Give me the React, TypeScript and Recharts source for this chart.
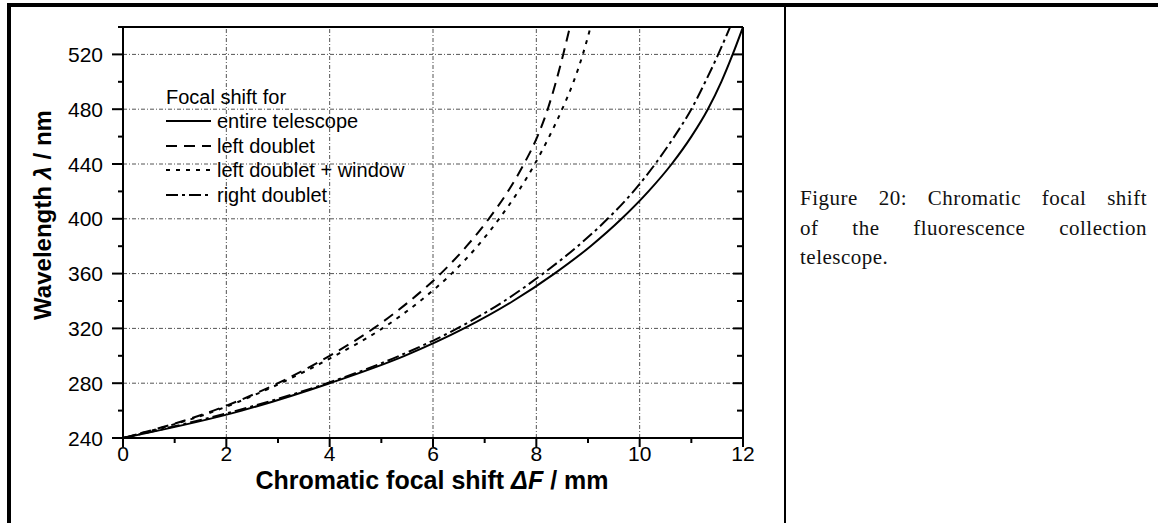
import React from "react";
import { LineChart, Line, XAxis, YAxis, ReferenceLine } from "recharts";

// wavelength rows (nm) and focal shift per configuration (mm)
const wavelengths = [240, 260, 280, 300, 320, 340, 360, 380, 400, 420, 440, 460, 480, 500, 520, 540];
const entireTelescope = [0, 2.3, 4.0, 5.45, 6.6, 7.55, 8.35, 9.05, 9.65, 10.17, 10.62, 11.0, 11.32, 11.58, 11.8, 12.0];
const leftDoublet = [0, 1.75, 3.0, 4.0, 4.85, 5.55, 6.15, 6.65, 7.08, 7.45, 7.76, 8.02, 8.22, 8.38, 8.52, 8.65];
const leftDoubletWindow = [0, 1.8, 3.05, 4.1, 5.02, 5.75, 6.36, 6.86, 7.28, 7.65, 7.97, 8.25, 8.5, 8.72, 8.9, 9.05];
const rightDoublet = [0, 2.2, 3.95, 5.35, 6.47, 7.38, 8.13, 8.8, 9.38, 9.88, 10.3, 10.67, 11.0, 11.27, 11.52, 11.75];

const xTicks = [0, 1, 2, 3, 4, 5, 6, 7, 8, 9, 10, 11, 12];
const xMajor = [0, 2, 4, 6, 8, 10, 12];
const xGrid = [2, 4, 6, 8, 10];
const yTicks = [240, 260, 280, 300, 320, 340, 360, 380, 400, 420, 440, 460, 480, 500, 520, 540];
const yMajor = [240, 280, 320, 360, 400, 440, 480, 520];
const yGrid = [280, 320, 360, 400, 440, 480, 520];

const series = [
  { name: "entire telescope", values: entireTelescope, dash: undefined },
  { name: "left doublet", values: leftDoublet, dash: "11 7" },
  { name: "left doublet + window", values: leftDoubletWindow, dash: "4 6" },
  { name: "right doublet", values: rightDoublet, dash: "12 4 3 4" },
];

const toRows = (vals: number[]) => wavelengths.map((wl, i) => ({ f: vals[i], wl }));

const FONT = "'Liberation Sans', Arial, sans-serif";

const BottomTick = (props: any) => {
  const { x, y, payload } = props;
  const major = xMajor.includes(payload.value);
  return (
    <g>
      <line x1={x} y1={y} x2={x} y2={y + (major ? 9 : 5)} stroke="#000" strokeWidth={2} />
      {major && (
        <text x={x} y={y + 23} textAnchor="middle" fontSize={21} fontFamily={FONT} fill="#000">
          {payload.value}
        </text>
      )}
    </g>
  );
};

const TopTick = (props: any) => {
  const { x, y, payload } = props;
  const major = xMajor.includes(payload.value);
  return <line x1={x} y1={y} x2={x} y2={y + (major ? 9 : 6)} stroke="#000" strokeWidth={2} />;
};

const LeftTick = (props: any) => {
  const { x, y, payload } = props;
  const major = yMajor.includes(payload.value);
  return (
    <g>
      <line x1={x} y1={y} x2={x - (major ? 11 : 5)} y2={y} stroke="#000" strokeWidth={2} />
      {major && (
        <text x={x - 20} y={y + 7.5} textAnchor="end" fontSize={21} fontFamily={FONT} fill="#000">
          {payload.value}
        </text>
      )}
    </g>
  );
};

const RightTick = (props: any) => {
  const { x, y, payload } = props;
  const major = yMajor.includes(payload.value);
  return <line x1={x} y1={y} x2={x - (major ? 10 : 6)} y2={y} stroke="#000" strokeWidth={2} />;
};

const LegendSample = ({ dash }: { dash?: string }) => (
  <svg width={45} height={8} style={{ display: "block" }}>
    <line x1={0} y1={4} x2={45} y2={4} stroke="#000" strokeWidth={2} strokeDasharray={dash} />
  </svg>
);

export default function App() {
  return (
    <div
      style={{
        position: "absolute",
        left: 0,
        top: 0,
        width: 1158,
        height: 523,
        background: "#fff",
        overflow: "hidden",
        fontFamily: FONT,
      }}
    >
      {/* page frame */}
      <div style={{ position: "absolute", left: 7, top: 3, width: 1151, height: 4, background: "#000" }} />
      <div style={{ position: "absolute", left: 7, top: 3, width: 4, height: 520, background: "#000" }} />
      <div style={{ position: "absolute", left: 784, top: 3, width: 2, height: 520, background: "#000" }} />

      <div style={{ position: "absolute", left: 0, top: 0 }}>
        <LineChart width={1158} height={523} margin={{ top: 27, right: 415, bottom: 84, left: 122 }}>
          <XAxis
            xAxisId={0}
            type="number"
            dataKey="f"
            domain={[0, 12]}
            ticks={xTicks}
            interval={0}
            height={1}
            tickSize={0}
            tickMargin={0}
            tickLine={false}
            tick={BottomTick}
            axisLine={{ stroke: "#000", strokeWidth: 2 }}
            allowDataOverflow
          />
          <XAxis
            xAxisId="top"
            orientation="top"
            mirror
            type="number"
            domain={[0, 12]}
            ticks={xTicks}
            interval={0}
            height={1}
            tickSize={0}
            tickMargin={0}
            tickLine={false}
            tick={TopTick}
            axisLine={{ stroke: "#000", strokeWidth: 2 }}
            allowDataOverflow
          />
          <YAxis
            yAxisId={0}
            type="number"
            dataKey="wl"
            domain={[240, 540]}
            ticks={yTicks}
            interval={0}
            width={1}
            tickSize={0}
            tickMargin={0}
            tickLine={false}
            tick={LeftTick}
            axisLine={{ stroke: "#000", strokeWidth: 2 }}
            allowDataOverflow
          />
          <YAxis
            yAxisId="right"
            orientation="right"
            mirror
            type="number"
            domain={[240, 540]}
            ticks={yTicks}
            interval={0}
            width={1}
            tickSize={0}
            tickMargin={0}
            tickLine={false}
            tick={RightTick}
            axisLine={{ stroke: "#000", strokeWidth: 2 }}
            allowDataOverflow
          />
          {xGrid.map((v) => (
            <ReferenceLine key={"gx" + v} x={v} stroke="#555" strokeWidth={1} strokeDasharray="4 2 1 2" />
          ))}
          {yGrid.map((v) => (
            <ReferenceLine key={"gy" + v} y={v} stroke="#555" strokeWidth={1} strokeDasharray="4 2 1 2" />
          ))}
          {series.map((s) => (
            <Line
              key={s.name}
              data={toRows(s.values)}
              dataKey="wl"
              type="monotone"
              stroke="#000"
              strokeWidth={2}
              strokeDasharray={s.dash}
              dot={false}
              activeDot={false}
              isAnimationActive={false}
            />
          ))}
        </LineChart>
      </div>

      {/* legend */}
      <div style={{ position: "absolute", left: 166, top: 85, fontSize: 20, lineHeight: "24px", color: "#000" }}>
        <div style={{ height: 24 }}>Focal shift for</div>
        {series.map((s) => (
          <div key={s.name} style={{ display: "flex", alignItems: "center", height: 24.5 }}>
            <LegendSample dash={s.dash} />
            <span style={{ marginLeft: 6, lineHeight: "24px" }}>{s.name}</span>
          </div>
        ))}
      </div>

      {/* axis titles */}
      <div
        style={{
          position: "absolute",
          left: 43,
          top: 215,
          transform: "translate(-50%, -50%) rotate(-90deg)",
          whiteSpace: "nowrap",
          fontWeight: "bold",
          fontSize: 24,
        }}
      >
        Wavelength <i>λ</i> / nm
      </div>
      <div
        style={{
          position: "absolute",
          left: 432,
          top: 480,
          transform: "translate(-50%, -50%)",
          whiteSpace: "nowrap",
          fontWeight: "bold",
          fontSize: 25,
          lineHeight: "25px",
        }}
      >
        Chromatic focal shift <i>ΔF</i> / mm
      </div>

      {/* caption */}
      <div
        style={{
          position: "absolute",
          left: 800,
          top: 184,
          width: 347,
          fontFamily: "'Liberation Serif', 'DejaVu Serif', serif",
          fontSize: 21,
          letterSpacing: 0.5,
          lineHeight: "29.5px",
          color: "#111",
        }}
      >
        <div style={{ textAlign: "justify", textAlignLast: "justify" }}>Figure 20: Chromatic focal shift</div>
        <div style={{ textAlign: "justify", textAlignLast: "justify" }}>of the fluorescence collection</div>
        <div>telescope.</div>
      </div>
    </div>
  );
}
